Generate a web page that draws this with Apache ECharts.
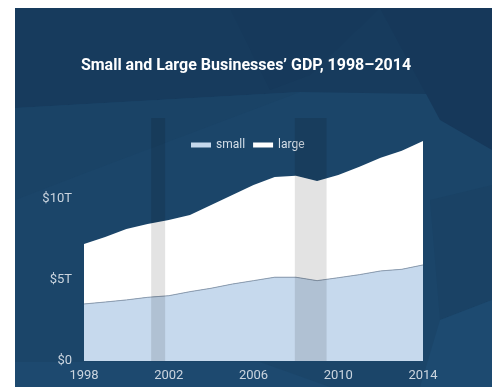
<!DOCTYPE html>
<html>
<head>
<meta charset="utf-8">
<script src="https://cdn.jsdelivr.net/npm/echarts@6/dist/echarts.min.js"></script>
<style>
  html, body { margin: 0; padding: 0; background: #fff; }
  #main { width: 492px; height: 387px; }
</style>
</head>
<body>
<div id="main"></div>
<script>
// GDP in trillions of dollars
var years = ["1998", "1999", "2000", "2001", "2002", "2003", "2004", "2005", "2006",
  "2007", "2008", "2009", "2010", "2011", "2012", "2013", "2014"];
var small = [3.52, 3.64, 3.77, 3.93, 4.03, 4.28, 4.49, 4.75, 4.96,
  5.17, 5.17, 4.96, 5.14, 5.33, 5.56, 5.66, 5.93];
var large = [3.70, 4.01, 4.38, 4.53, 4.67, 4.73, 5.14, 5.50, 5.90,
  6.19, 6.27, 6.15, 6.34, 6.66, 6.99, 7.32, 7.65];
// recessions (fractional years)
var recessionStart = [2001.17, 2007.95];
var recessionEnd = [2001.83, 2009.45];

var font = "Roboto, 'Noto Sans', sans-serif";

var chart = echarts.init(document.getElementById("main"));

var bands = [];
for (var i = 0; i < recessionStart.length; i++) {
  bands.push([{ xAxis: recessionStart[i] }, { xAxis: recessionEnd[i] }]);
}

chart.setOption({
  backgroundColor: "#fff",
  animation: false,
  graphic: [
    // low-poly background
    { type: "rect", z: -10, shape: { x: 15, y: 8, width: 477, height: 379 }, style: { fill: "#1b4569" } },
    { type: "polygon", z: -9, shape: { points: [[15, 8], [492, 8], [492, 95], [300, 92], [15, 108]] }, style: { fill: "#173b5d" } },
    { type: "polygon", z: -9, shape: { points: [[230, 8], [380, 8], [310, 75], [270, 90]] }, style: { fill: "#16395b" } },
    { type: "polygon", z: -9, shape: { points: [[380, 8], [492, 8], [492, 150], [440, 120]] }, style: { fill: "#16385a" } },
    { type: "polygon", z: -9, shape: { points: [[15, 108], [300, 92], [80, 175], [15, 200]] }, style: { fill: "#1a4366" } },
    { type: "polygon", z: -9, shape: { points: [[430, 200], [492, 185], [492, 300], [440, 320]] }, style: { fill: "#1a4265" } },
    { type: "polygon", z: -9, shape: { points: [[440, 320], [492, 300], [492, 387], [420, 387]] }, style: { fill: "#1d4a70" } },
    { type: "polygon", z: -9, shape: { points: [[15, 362], [260, 362], [330, 387], [15, 387]] }, style: { fill: "#1d496f" } }
  ],
  title: {
    text: "Small and Large Businesses\u2019 GDP, 1998\u20132014",
    left: "center",
    top: 53,
    textStyle: { color: "#ffffff", fontFamily: font, fontWeight: "bold", fontSize: 16 }
  },
  legend: {
    left: 186,
    top: 134,
    icon: "rect",
    itemWidth: 20,
    itemHeight: 5,
    itemGap: 8,
    textStyle: { color: "#d5dfe9", fontFamily: font, fontSize: 12 },
    data: [
      { name: "small", itemStyle: { color: "#c5d8ec" } },
      { name: "large", itemStyle: { color: "#ffffff" } }
    ]
  },
  grid: { left: 84, right: 69, top: 118, bottom: 26 },
  xAxis: [
    {
      type: "category",
      data: years,
      boundaryGap: false,
      axisLine: { show: false },
      axisTick: { show: false },
      axisLabel: { interval: 3, margin: 8, color: "#cbd5df", fontFamily: font, fontSize: 13 }
    },
    {
      type: "value",
      min: 1998,
      max: 2014,
      show: false
    }
  ],
  yAxis: {
    type: "value",
    min: 0,
    max: 15,
    interval: 5,
    splitLine: { show: false },
    axisLine: { show: false },
    axisTick: { show: false },
    axisLabel: {
      margin: 12,
      color: "#cbd5df",
      fontFamily: font,
      fontSize: 13,
      showMaxLabel: false,
      formatter: function (v) {
        if (v === 0) return "$0";
        if (v >= 15) return "";
        return "$" + v + "T";
      }
    }
  },
  series: [
    {
      name: "small",
      type: "line",
      stack: "gdp",
      data: small,
      symbol: "none",
      z: 3,
      itemStyle: { color: "#c5d8ec" },
      lineStyle: { color: "#8e9eb1", width: 1 },
      areaStyle: { color: "#c6d9ed", opacity: 1 }
    },
    {
      name: "large",
      type: "line",
      stack: "gdp",
      data: large,
      symbol: "none",
      z: 2,
      itemStyle: { color: "#ffffff" },
      lineStyle: { width: 0 },
      areaStyle: { color: "#ffffff", opacity: 1 }
    },
    {
      name: "recession",
      type: "line",
      xAxisIndex: 1,
      data: [],
      z: 5,
      markArea: {
        silent: true,
        z: 10,
        itemStyle: { color: "rgba(0,0,0,0.11)" },
        data: bands
      }
    }
  ]
});
</script>
</body>
</html>
